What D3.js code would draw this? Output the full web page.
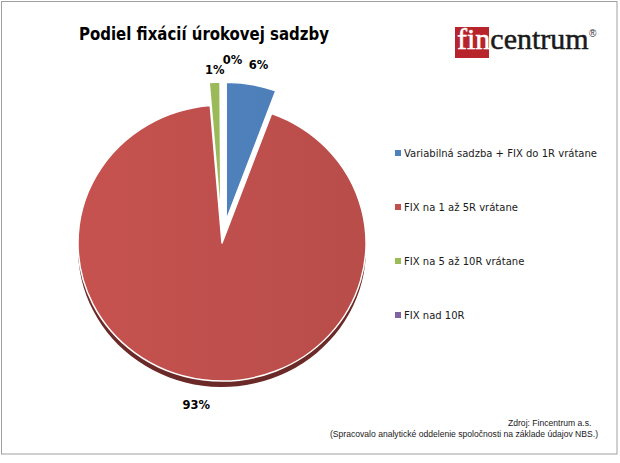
<!DOCTYPE html>
<html>
<head>
<meta charset="utf-8">
<script src="https://cdn.jsdelivr.net/npm/d3@7"></script>
<style>
  html, body { margin: 0; padding: 0; background: #fff; }
  svg { display: block; }
</style>
</head>
<body>
<svg id="chart" width="620" height="463"></svg>
<script>
// ---- data ----
const categories = [
  "Variabilná sadzba + FIX do 1R vrátane",
  "FIX na 1 až 5R vrátane",
  "FIX na 5 až 10R vrátane",
  "FIX nad 10R"
];
const values = [5.6, 93.1, 1.2, 0.1];
const valueLabels = ["6%", "93%", "1%", "0%"];
const colors = ["#4f81bd", "#c0504d", "#9bbb59", "#8064a2"];
const sideColors = ["#2f5580", "#6b2927", "#5f7a2f", "#4d3a66"];

// ---- layout ----
const W = 620, H = 463;
const cx = 222, cy = 243, rx = 144, ry = 138, depth = 6;
const explode = [24, 0, 24, 24];
const labelNudge = [[4, -3], [-4, 8], [1, 5], [11, -5]];

const svg = d3.select("#chart");

// frame
svg.append("rect").attr("x", 1.5).attr("y", 1.5).attr("width", 615.5).attr("height", 452.5)
  .attr("fill", "#fff").attr("stroke", "#a0a0a0").attr("stroke-width", 1);

// gradients
const defs = svg.append("defs");
colors.forEach((c, i) => {
  const g = defs.append("linearGradient").attr("id", "grad" + i)
    .attr("gradientUnits", "userSpaceOnUse")
    .attr("x1", -rx).attr("y1", 0).attr("x2", rx).attr("y2", 0);
  g.append("stop").attr("offset", "0%").attr("stop-color", d3.color(c).brighter(0.08));
  g.append("stop").attr("offset", "100%").attr("stop-color", d3.color(c).darker(0.12));
});
defs.append("clipPath").attr("id", "lowerHalf")
  .append("rect").attr("x", -rx - 10).attr("y", 0).attr("width", 2 * rx + 20).attr("height", rx + 40);

const pie = d3.pie().sort(null).value(d => d).startAngle(0).endAngle(2 * Math.PI);
const arcs = pie(values);
const arc = d3.arc().innerRadius(0).outerRadius(rx);
const sy = ry / rx;

const pieG = svg.append("g").attr("transform", `translate(${cx},${cy}) scale(1,${sy})`);

function offsetOf(d, i) {
  const m = (d.startAngle + d.endAngle) / 2;
  return [explode[i] * Math.sin(m), -explode[i] * Math.cos(m)];
}

// side (depth) - only lower half visible
const sideG = pieG.append("g").attr("clip-path", "url(#lowerHalf)");
arcs.forEach((d, i) => {
  const [ox, oy] = offsetOf(d, i);
  sideG.append("path")
    .attr("d", arc(d))
    .attr("transform", `translate(${ox},${oy + depth / sy})`)
    .attr("fill", sideColors[i]);
});

// top surfaces
arcs.forEach((d, i) => {
  const [ox, oy] = offsetOf(d, i);
  pieG.append("path")
    .attr("d", arc(d))
    .attr("transform", `translate(${ox},${oy})`)
    .attr("fill", `url(#grad${i})`)
    .attr("stroke", "#fff")
    .attr("stroke-width", 1.5)
    .attr("stroke-linejoin", "round");
});

// value labels
arcs.forEach((d, i) => {
  const m = (d.startAngle + d.endAngle) / 2;
  const r = rx + explode[i] + 18;
  const x = cx + r * Math.sin(m) + labelNudge[i][0];
  const y = cy - r * Math.cos(m) * sy + labelNudge[i][1];
  svg.append("text")
    .attr("x", x).attr("y", y)
    .attr("text-anchor", "middle")
    .attr("dominant-baseline", "central")
    .attr("font-family", "DejaVu Sans, Verdana, sans-serif")
    .attr("font-weight", "bold")
    .attr("font-size", 11.5)
    .attr("fill", "#000")
    .text(valueLabels[i]);
});

// squeeze helper: keep the font size, compress glyphs to a target width
function squeeze(sel, target) {
  sel.attr("textLength", target).attr("lengthAdjust", "spacingAndGlyphs");
}
function fitWidth(sel, target) {
  const w = sel.node().getComputedTextLength();
  const fs = parseFloat(sel.attr("font-size"));
  const nfs = fs * target / w;
  sel.attr("font-size", nfs.toFixed(2));
  return nfs;
}

// title
const title = svg.append("text")
  .attr("x", 79).attr("y", 40)
  .attr("font-family", "DejaVu Sans, Verdana, sans-serif")
  .attr("font-weight", "bold")
  .attr("font-size", 17.5)
  .attr("fill", "#000")
  .text("Podiel fixácií úrokovej sadzby");
squeeze(title, 250);

// logo
const logo = svg.append("g");
logo.append("rect").attr("x", 455).attr("y", 27).attr("width", 34).attr("height", 31).attr("fill", "#b8242b");
const logoText = logo.append("text")
  .attr("x", 457).attr("y", 49)
  .attr("font-family", "Liberation Serif, Times New Roman, serif")
  .attr("font-size", 30);
logoText.append("tspan").attr("fill", "#fff").attr("stroke", "#fff").attr("stroke-width", 0.5).text("fin");
logoText.append("tspan").attr("fill", "#1a1a1a").attr("stroke", "#1a1a1a").attr("stroke-width", 0.5).text("centrum");
logo.append("text").attr("x", 589).attr("y", 37)
  .attr("font-family", "Liberation Sans, Arial, sans-serif")
  .attr("font-size", 10).attr("fill", "#333").text("®");

// legend
const legendY = [153, 207, 261, 315];
const legend = svg.append("g");
let ratio = null;
categories.forEach((c, i) => {
  legend.append("rect")
    .attr("x", 395).attr("y", legendY[i] - 3).attr("width", 6).attr("height", 6)
    .attr("fill", colors[i]);
  const t = legend.append("text")
    .attr("x", 404).attr("y", legendY[i])
    .attr("dominant-baseline", "central")
    .attr("font-family", "DejaVu Sans, Verdana, sans-serif")
    .attr("font-size", 11)
    .attr("fill", "#1a1a1a")
    .text(c);
  const w = t.node().getComputedTextLength();
  if (ratio === null) ratio = 193 / w;
  squeeze(t, w * ratio);
});

// source
const srcFont = "Liberation Sans, Arial, sans-serif";
const src2 = svg.append("text")
  .attr("x", 330).attr("y", 437)
  .attr("font-family", srcFont)
  .attr("font-size", 9).attr("fill", "#1a1a1a")
  .text("(Spracovalo analytické oddelenie spoločnosti na základe údajov NBS.)");
const fs2 = fitWidth(src2, 268);
svg.append("text")
  .attr("x", 508).attr("y", 426)
  .attr("font-family", srcFont)
  .attr("font-size", fs2.toFixed(2)).attr("fill", "#1a1a1a")
  .text("Zdroj: Fincentrum a.s.");
</script>
</body>
</html>
